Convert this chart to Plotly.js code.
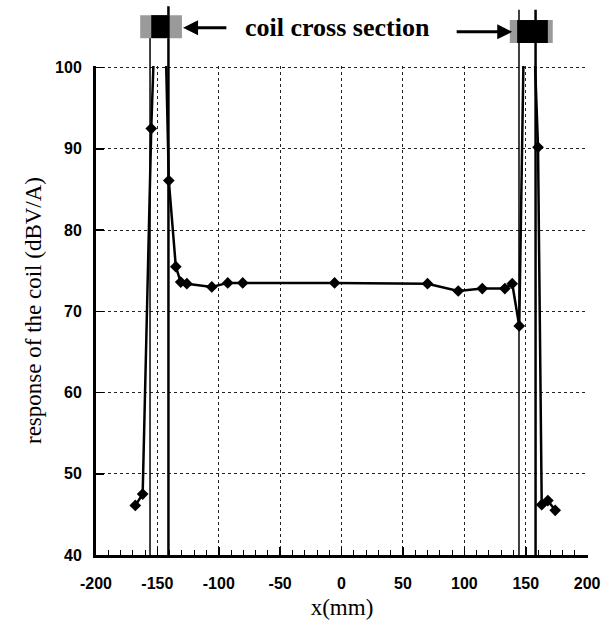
<!DOCTYPE html>
<html>
<head>
<meta charset="utf-8">
<script src="https://cdn.plot.ly/plotly-3.0.1.min.js"></script>
<style>html,body{margin:0;padding:0;background:#fff;}#chart{width:601px;height:626px;}</style>
</head>
<body>
<div id="chart"></div>
<script>
// measured response of the coil
var xPos = [-168, -162, -155, -147, -140.7, -135, -131, -126, -105.7, -92.7, -80.5, -5.7, 70, 95, 114.6, 133, 139, 144.7, 151, 160, 163, 168, 174];
var response = [46.1, 47.5, 92.5, 128, 86.1, 75.5, 73.6, 73.4, 73.0, 73.5, 73.5, 73.5, 73.4, 72.5, 72.8, 72.8, 73.4, 68.2, 128, 90.2, 46.2, 46.7, 45.5];

// coil cross section edges (mm)
var coilLeftEdges = [-156, -141];
var coilRightEdges = [144.5, 158];
// drawn coil boxes (mm): [gray start, black start, black end, gray end]
var coilLeftBox = [-164, -155, -140, -130];
var coilRightBox = [137, 143, 168, 172];

var xTickVals = [-200, -150, -100, -50, 0, 50, 100, 150, 200];
var xTickText = ['-200', '-150', '-100', '-50', '0', '50', '100', '150', '200'];
var yTickVals = [40, 50, 60, 70, 80, 90, 100];

var trace = {
  x: xPos, y: response, type: 'scatter', mode: 'lines+markers',
  line: {color: '#000', width: 2.5},
  marker: {symbol: 'diamond', size: 9, color: '#000'},
  hoverinfo: 'x+y'
};

var shapes = [];
function vline(x, y1, w) {
  shapes.push({type: 'line', xref: 'x', yref: 'paper', x0: x, x1: x, y0: 0, y1: y1, line: {color: '#000', width: w}});
}
vline(coilLeftEdges[0], 1.06, 1.5);
vline(coilLeftEdges[1], 1.122, 2.5);
vline(coilRightEdges[0], 1.115, 1.5);
vline(coilRightEdges[1], 1.115, 2.5);
shapes.push({type: 'rect', xref: 'x', yref: 'paper', x0: coilLeftBox[0], x1: coilLeftBox[3], y0: 1.057, y1: 1.104, fillcolor: '#9a9a9a', line: {width: 0}});
shapes.push({type: 'rect', xref: 'x', yref: 'paper', x0: coilLeftBox[1], x1: coilLeftBox[2], y0: 1.057, y1: 1.104, fillcolor: '#000', line: {width: 0}});
shapes.push({type: 'rect', xref: 'x', yref: 'paper', x0: coilRightBox[0], x1: coilRightBox[3], y0: 1.047, y1: 1.094, fillcolor: '#9a9a9a', line: {width: 0}});
shapes.push({type: 'rect', xref: 'x', yref: 'paper', x0: coilRightBox[1], x1: coilRightBox[2], y0: 1.047, y1: 1.094, fillcolor: '#000', line: {width: 0}});

var layout = {
  width: 601, height: 626,
  margin: {l: 96, r: 13, t: 66, b: 71},
  paper_bgcolor: '#fff', plot_bgcolor: '#fff',
  showlegend: false,
  xaxis: {
    range: [-200, 200.7], tickvals: xTickVals, ticktext: xTickText,
    ticks: 'inside', ticklen: 8, tickwidth: 1.5, tickcolor: '#000',
    minor: {dtick: 10, ticks: 'inside', ticklen: 5, tickcolor: '#000', tickwidth: 1, showgrid: false},
    showline: true, linecolor: '#000', linewidth: 3,
    showgrid: true, gridcolor: '#222', gridwidth: 1, griddash: 'dot',
    zeroline: false, ticklabelstandoff: 12,
    tickfont: {family: 'Liberation Sans', size: 16, color: '#000', weight: 'bold'},
    title: {text: 'x(mm)', font: {family: 'Liberation Serif', size: 23, color: '#000'}, standoff: 8}
  },
  yaxis: {
    range: [40, 100.2], tickvals: yTickVals,
    ticks: 'inside', ticklen: 8, tickwidth: 1.5, tickcolor: '#000',
    showline: true, linecolor: '#000', linewidth: 3,
    showgrid: true, gridcolor: '#222', gridwidth: 1, griddash: 'dot',
    zeroline: false, ticklabelstandoff: 8,
    tickfont: {family: 'Liberation Sans', size: 16, color: '#000', weight: 'bold'},
    title: {text: 'response of the coil (dBV/A)', font: {family: 'Liberation Serif', size: 23, color: '#000'}, standoff: 8}
  },
  shapes: shapes,
  annotations: [
    {xref: 'paper', yref: 'paper', x: 0.49, y: 1.078, text: 'coil cross section', showarrow: false,
     font: {family: 'Liberation Serif', size: 26, color: '#000', weight: 'bold'}, xanchor: 'center', yanchor: 'middle'},
    {xref: 'paper', yref: 'paper', x: 0.177, y: 1.078, text: '', showarrow: true, axref: 'paper', ayref: 'paper',
     ax: 0.268, ay: 1.078, arrowhead: 2, arrowsize: 1, arrowwidth: 3, arrowcolor: '#000'},
    {xref: 'paper', yref: 'paper', x: 0.846, y: 1.07, text: '', showarrow: true, axref: 'paper', ayref: 'paper',
     ax: 0.73, ay: 1.07, arrowhead: 2, arrowsize: 1, arrowwidth: 3, arrowcolor: '#000'}
  ]
};

Plotly.newPlot('chart', [trace], layout, {displayModeBar: false, staticPlot: true});
</script>
</body>
</html>
